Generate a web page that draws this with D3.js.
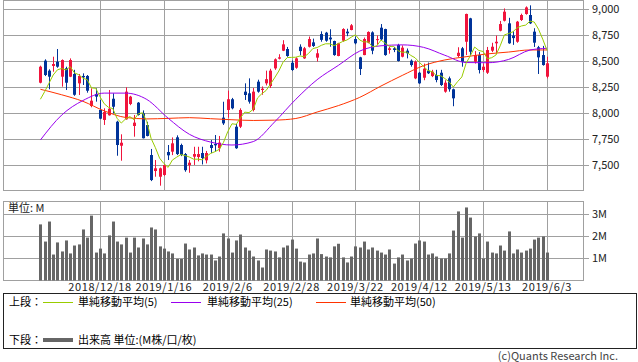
<!DOCTYPE html>
<html>
<head>
<meta charset="utf-8">
<script src="https://cdn.jsdelivr.net/npm/d3@7"></script>
<style>
  body { margin: 0; background: #fff; }
  svg { display: block; font-family: 'Noto Sans CJK JP', 'DejaVu Sans', sans-serif; }
</style>
</head>
<body>
<svg id="chart" width="638" height="362"></svg>
<script>
// trading days shown on the chart
const dates = [
  '2018/11/28','2018/11/29','2018/11/30',
  '2018/12/3','2018/12/4','2018/12/5','2018/12/6','2018/12/7',
  '2018/12/10','2018/12/11','2018/12/12','2018/12/13','2018/12/14',
  '2018/12/17','2018/12/18','2018/12/19','2018/12/20','2018/12/21',
  '2018/12/25','2018/12/26','2018/12/27','2018/12/28',
  '2019/1/4','2019/1/7','2019/1/8','2019/1/9','2019/1/10','2019/1/11',
  '2019/1/15','2019/1/16','2019/1/17','2019/1/18',
  '2019/1/21','2019/1/22','2019/1/23','2019/1/24','2019/1/25',
  '2019/1/28','2019/1/29','2019/1/30','2019/1/31','2019/2/1',
  '2019/2/4','2019/2/5','2019/2/6','2019/2/7','2019/2/8',
  '2019/2/12','2019/2/13','2019/2/14','2019/2/15',
  '2019/2/18','2019/2/19','2019/2/20','2019/2/21','2019/2/22',
  '2019/2/25','2019/2/26','2019/2/27','2019/2/28','2019/3/1',
  '2019/3/4','2019/3/5','2019/3/6','2019/3/7','2019/3/8',
  '2019/3/11','2019/3/12','2019/3/13','2019/3/14','2019/3/15',
  '2019/3/18','2019/3/19','2019/3/20','2019/3/22',
  '2019/3/25','2019/3/26','2019/3/27','2019/3/28','2019/3/29',
  '2019/4/1','2019/4/2','2019/4/3','2019/4/4','2019/4/5',
  '2019/4/8','2019/4/9','2019/4/10','2019/4/11','2019/4/12',
  '2019/4/15','2019/4/16','2019/4/17','2019/4/18','2019/4/19',
  '2019/4/22','2019/4/23','2019/4/24','2019/4/25','2019/4/26',
  '2019/5/7','2019/5/8','2019/5/9','2019/5/10',
  '2019/5/13','2019/5/14','2019/5/15','2019/5/16','2019/5/17',
  '2019/5/20','2019/5/21','2019/5/22','2019/5/23','2019/5/24',
  '2019/5/27','2019/5/28','2019/5/29','2019/5/30','2019/5/31',
  '2019/6/3'
]

const opens = [
  8296,8508,8412,8457,8498,8354,8435,8354,8380,8290,
  8361,8361,8072,8188,8034,7938,7983,8142,7921,7690,
  7944,8091,7880,8104,8002,7889,7601,7447,7392,7409,
  7630,7633,7771,7697,7610,7502,7585,7582,7620,7550,
  7697,7707,7666,7960,8034,8137,7873,7873,8210,8194,
  8034,8306,8226,8290,8264,8434,8527,8604,8620,8488,
  8440,8642,8530,8642,8684,8537,8764,8777,8730,8697,
  8553,8700,8787,8803,8716,8540,8562,8681,8780,8710,
  8825,8812,8611,8627,8659,8546,8604,8508,8338,8392,
  8344,8412,8360,8370,8392,8210,8338,8233,8553,8627,
  8690,8915,8498,8562,8418,8392,8604,8675,8796,8892,
  8867,8750,8690,8899,8957,8947,8787,8637,8562,8354
]
const highs = [
  8460,8521,8425,8546,8620,8520,8450,8530,8420,8380,
  8386,8370,8242,8242,8130,8050,8226,8194,7930,7800,
  8252,8170,7986,8110,8030,7920,7659,7553,7480,7510,
  7697,7770,7790,7710,7620,7553,7680,7680,7680,7640,
  7745,7793,7784,8113,8220,8150,7899,8050,8290,8338,
  8245,8325,8260,8412,8430,8530,8570,8705,8640,8510,
  8540,8665,8640,8740,8720,8620,8790,8785,8810,8700,
  8680,8820,8815,8860,8740,8545,8730,8790,8790,8750,
  8860,8815,8640,8640,8670,8655,8625,8520,8510,8400,
  8480,8490,8420,8420,8420,8320,8355,8240,8637,8640,
  8960,8920,8600,8590,8480,8640,8680,8750,8890,9010,
  8920,8790,8890,8960,9030,9040,8820,8650,8650,8546
]
const lows = [
  8290,8360,8233,8402,8440,8258,8226,8350,8170,8178,
  8274,8200,8060,8114,7945,7890,7980,8002,7594,7546,
  7940,8080,7777,7980,7760,7780,7350,7392,7306,7400,
  7553,7600,7600,7590,7440,7430,7505,7540,7510,7520,
  7620,7633,7633,7890,7960,8040,7660,7860,8130,8095,
  8020,8200,8180,8270,8245,8420,8520,8600,8545,8410,
  8430,8560,8525,8635,8640,8500,8690,8690,8642,8555,
  8550,8690,8743,8800,8665,8370,8560,8675,8570,8660,
  8705,8555,8575,8590,8500,8540,8530,8450,8330,8285,
  8320,8380,8350,8300,8265,8200,8210,8070,8540,8450,
  8562,8560,8480,8385,8400,8380,8590,8570,8790,8885,
  8670,8660,8680,8890,8950,8860,8640,8380,8460,8338
]
const closes = [
  8450,8370,8354,8476,8450,8514,8296,8514,8180,8361,
  8348,8219,8123,8162,7950,8014,8046,8065,7697,7719,
  8210,8162,7912,7986,7762,7784,7360,7473,7473,7505,
  7598,7713,7610,7601,7455,7527,7610,7610,7572,7620,
  7668,7694,7720,7905,8137,8050,7666,8034,8178,8114,
  8210,8210,8238,8330,8412,8521,8540,8665,8553,8418,
  8530,8600,8627,8716,8649,8579,8708,8700,8713,8562,
  8675,8812,8771,8848,8675,8428,8716,8784,8604,8715,
  8713,8562,8627,8611,8505,8633,8579,8466,8498,8290,
  8431,8387,8402,8322,8274,8296,8233,8146,8584,8498,
  8957,8594,8562,8418,8450,8610,8642,8690,8860,8979,
  8675,8725,8883,8947,9020,8867,8681,8540,8466,8483
]
// volume, millions
const volumes = [
  2.55,1.77,2.68,1.18,1.73,1.32,1.82,1.23,1.59,1.64,
  2.32,1.95,2.95,1.27,1.45,1.23,2.05,2.68,1.77,1.64,
  1.95,1.27,1.95,1.50,1.91,1.64,2.41,2.32,1.55,1.45,
  1.32,1.23,0.98,0.98,1.68,1.41,1.50,1.14,1.23,1.18,
  1.18,0.91,1.09,2.14,1.91,1.27,1.82,2.09,1.50,1.36,
  1.09,0.91,0.59,1.41,1.36,1.32,1.05,1.50,1.59,1.86,
  1.45,0.86,0.82,1.18,1.23,1.91,1.20,1.09,1.05,1.55,
  1.67,1.05,0.82,1.09,1.55,1.50,1.77,1.41,1.50,1.36,
  1.27,1.18,1.41,0.77,1.05,1.18,0.91,1.00,1.68,1.82,
  1.77,1.18,1.23,1.09,1.00,1.00,1.23,2.27,3.14,1.95,
  3.32,2.86,2.00,2.14,1.00,1.77,1.27,1.23,1.59,1.36,
  2.23,1.23,1.41,1.27,1.36,1.45,1.86,1.95,2.00,1.27
]

// 5-day average for the first four days (uses days before the window)
const ma5Head = [8137, 8210, 8290, 8370]
// 25 / 50 day averages read at these day indexes
const maIndex = [0,5,10,15,20,25,30,35,40,45,50,55,60,65,70,75,80,85,90,95,100,105,110,115,119]
const ma25 = [7745,7985,8125,8196,8196,8135,7955,7800,7725,7697,7730,7918,8137,8325,8463,8600,8651,8660,8636,8560,8490,8488,8520,8610,8627]
const ma50 = [8233,8180,8117,8025,7962,7948,7953,7960,7950,7940,7933,7936,7952,8014,8076,8155,8264,8366,8460,8515,8546,8573,8591,8611,8611]

const priceTicks = [7500, 7750, 8000, 8250, 8500, 8750, 9000]
const volumeTicks = [1, 2, 3]
const volumeTickLabels = ['1M', '2M', '3M']
const dateTicks = ['2018/12/18','2019/1/16','2019/2/6','2019/2/28','2019/3/22','2019/4/12','2019/5/13','2019/6/3']
const legendLabels = ['単純移動平均(5)', '単純移動平均(25)', '単純移動平均(50)']

function makeChart() {
  const svg = d3.select('#chart')
  const gridColor = '#a0a0a0'
  const upColor = '#f0143c'
  const downColor = '#003399'
  const maColors = ['#99cc00', '#9900ee', '#ff3300']

  // day index -> x
  const x = d3.scalePoint().domain(dates).range([40.4, 547])
  const px = d => Math.round(x(d))
  const y = d3.scaleLinear().domain([7500, 9000]).range([165.5, 9.5])
  const yv = d3.scaleLinear().domain([0, 3]).range([280.5, 214.5])

  const candles = dates.map((d, i) => ({
    date: d, open: opens[i], high: highs[i], low: lows[i], close: closes[i], volume: volumes[i]
  }))

  // ---- price panel grid
  const top = svg.append('g')
  top.selectAll('.hg').data(priceTicks).enter().append('line')
    .attr('x1', 3).attr('x2', 589)
    .attr('y1', d => y(d)).attr('y2', d => y(d))
    .attr('stroke', gridColor)
  top.selectAll('.vg').data(dateTicks).enter().append('line')
    .attr('x1', d => px(d) + 0.5).attr('x2', d => px(d) + 0.5)
    .attr('y1', 1).attr('y2', 190)
    .attr('stroke', gridColor)
  top.append('rect')
    .attr('x', 3.5).attr('y', 0.5).attr('width', 580).attr('height', 190)
    .attr('fill', 'none').attr('stroke', gridColor)
  top.selectAll('.yl').data(priceTicks).enter().append('text')
    .attr('x', 592).attr('y', d => y(d))
    .attr('dy', '0.35em')
    .attr('font-size', 11).attr('fill', '#222')
    .text(d => d3.format(',')(d))

  // ---- candles
  const c = top.selectAll('.candle').data(candles).enter().append('g')
  c.append('line')
    .attr('x1', d => px(d.date) + 0.5).attr('x2', d => px(d.date) + 0.5)
    .attr('y1', d => y(d.high)).attr('y2', d => y(d.low))
    .attr('stroke', d => d.close >= d.open ? upColor : downColor)
  c.append('rect')
    .attr('x', d => px(d.date) - 1).attr('width', 3)
    .attr('y', d => y(Math.max(d.open, d.close)))
    .attr('height', d => Math.max(1, Math.abs(y(d.open) - y(d.close))))
    .attr('fill', d => d.close >= d.open ? upColor : downColor)

  // ---- moving averages, drawn over the candles
  const line = d3.line().x(d => x(dates[d[0]])).y(d => y(d[1]))
  const smooth = d3.line().x(d => x(dates[d[0]])).y(d => y(d[1])).curve(d3.curveMonotoneX)
  const ma5 = closes.map((c, i) => i < 4 ? [i, ma5Head[i]] : [i, d3.mean(closes.slice(i - 4, i + 1))])
  top.append('path').attr('d', smooth(maIndex.map((d, i) => [d, ma50[i]])))
    .attr('fill', 'none').attr('stroke', maColors[2]).attr('stroke-width', 1)
  top.append('path').attr('d', smooth(maIndex.map((d, i) => [d, ma25[i]])))
    .attr('fill', 'none').attr('stroke', maColors[1]).attr('stroke-width', 1)
  top.append('path').attr('d', line(ma5))
    .attr('fill', 'none').attr('stroke', maColors[0]).attr('stroke-width', 1)

  // ---- volume panel
  const bottom = svg.append('g')
  bottom.selectAll('.hg').data(volumeTicks).enter().append('line')
    .attr('x1', 3).attr('x2', 589)
    .attr('y1', d => yv(d)).attr('y2', d => yv(d))
    .attr('stroke', gridColor)
  bottom.selectAll('.vg').data(dateTicks).enter().append('line')
    .attr('x1', d => px(d) + 0.5).attr('x2', d => px(d) + 0.5)
    .attr('y1', 201.5).attr('y2', 280.5)
    .attr('stroke', gridColor)
  bottom.append('rect')
    .attr('x', 3.5).attr('y', 201.5).attr('width', 580).attr('height', 79)
    .attr('fill', 'none').attr('stroke', gridColor)
  bottom.selectAll('.bar').data(candles).enter().append('rect')
    .attr('x', d => px(d.date) - 1).attr('width', 3)
    .attr('y', d => yv(d.volume)).attr('height', d => yv(0) - yv(d.volume))
    .attr('fill', '#666')
  bottom.selectAll('.yl').data(volumeTicks).enter().append('text')
    .attr('x', 592).attr('y', d => yv(d)).attr('dy', '0.35em')
    .attr('font-size', 11).attr('fill', '#222')
    .text((d, i) => volumeTickLabels[i])
  bottom.append('text')
    .attr('x', 8).attr('y', 212)
    .attr('font-size', 11).attr('fill', '#222')
    .text('単位: M')

  // date labels
  svg.selectAll('.xl').data(dateTicks).enter().append('text')
    .attr('x', d => x(d)).attr('y', 291)
    .attr('text-anchor', 'middle')
    .attr('font-size', 11).attr('letter-spacing', 0.6).attr('fill', '#222')
    .text(d => d)

  // ---- legend
  const lg = svg.append('g')
  lg.append('rect')
    .attr('x', 3.5).attr('y', 293.5).attr('width', 633).attr('height', 55)
    .attr('fill', 'none').attr('stroke', '#222')
  lg.append('text').attr('x', 9).attr('y', 306).attr('font-size', 11).text('上段：')
  const lineX = [43, 171, 316]
  const textX = [78, 207, 350]
  legendLabels.forEach((t, i) => {
    lg.append('line')
      .attr('x1', lineX[i]).attr('x2', lineX[i] + 30)
      .attr('y1', 302.5).attr('y2', 302.5)
      .attr('stroke', maColors[i])
    lg.append('text').attr('x', textX[i]).attr('y', 306).attr('font-size', 11).text(t)
  })
  lg.append('text').attr('x', 9).attr('y', 344).attr('font-size', 11).text('下段：')
  lg.append('line')
    .attr('x1', 43).attr('x2', 73).attr('y1', 340).attr('y2', 340)
    .attr('stroke', '#666').attr('stroke-width', 4)
  lg.append('text').attr('x', 78).attr('y', 344).attr('font-size', 11).text('出来高 単位:(M株/口/枚)')

  svg.append('text')
    .attr('x', 618).attr('y', 360)
    .attr('text-anchor', 'end')
    .attr('font-size', 11).attr('fill', '#444')
    .text('(c)Quants Research Inc.')
}

window.onload = makeChart
</script>
</body>
</html>
